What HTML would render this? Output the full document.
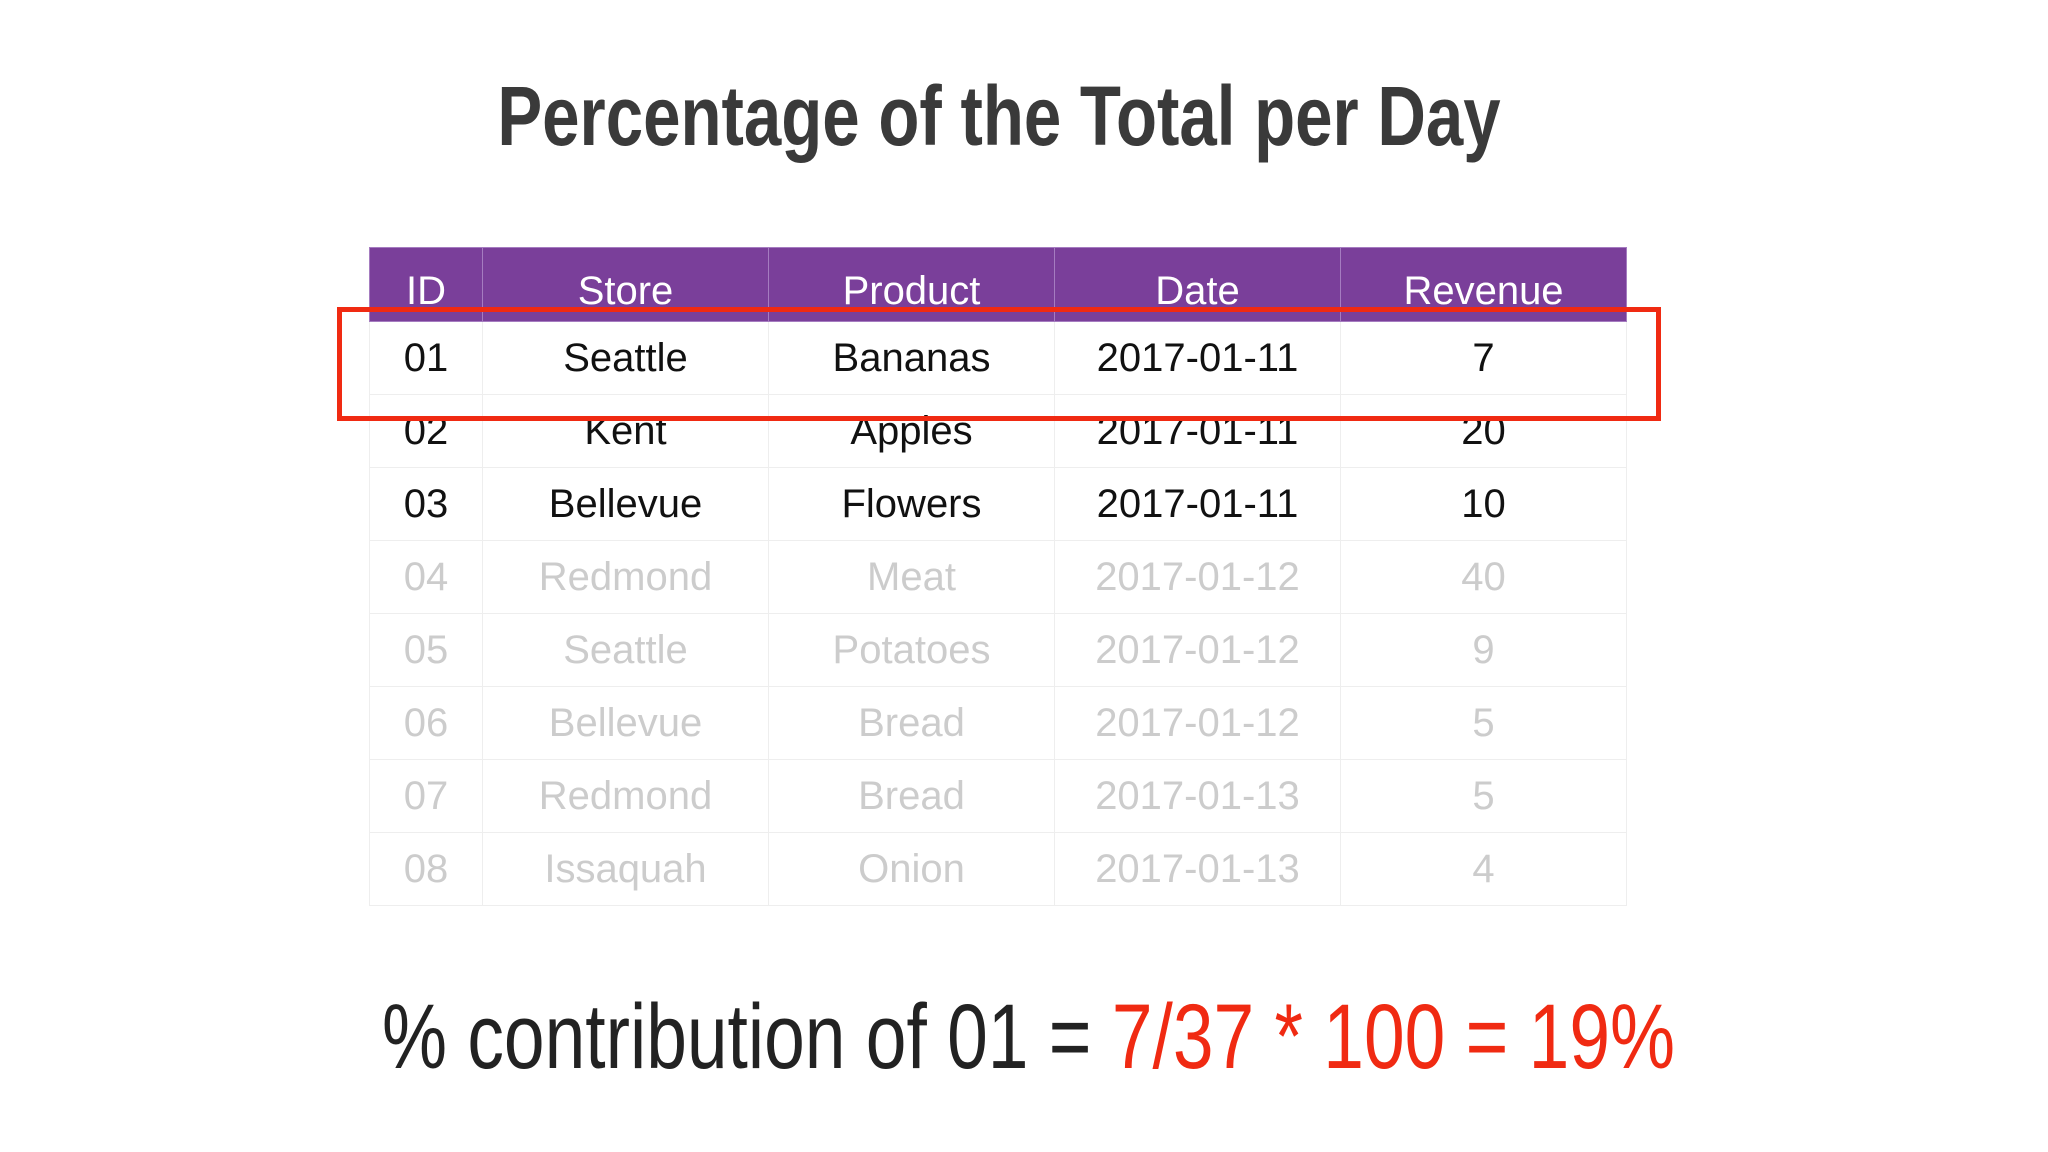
<!DOCTYPE html>
<html><head><meta charset="utf-8"><style>
body{margin:0;width:2048px;height:1152px;background:#fff;position:relative;overflow:hidden;font-family:"Liberation Sans",sans-serif}
#title{position:absolute;left:-21px;width:2048px;top:68px;text-align:center;font-size:84px;font-weight:bold;color:#3a3a3a;transform:scaleX(0.80);transform-origin:1004px 0}
table{position:absolute;left:369px;top:247px;border-collapse:collapse;width:1257px;table-layout:fixed}
td,th{height:72px;text-align:center;font-size:40px;border:1px solid #eee;padding:0;overflow:hidden}
th{background:#7a3f9a;color:#fff;font-weight:normal;border-color:#a57cc0;height:74px;padding-top:14px;box-sizing:border-box}
tr.f td{color:#ccc}
tr.a td{color:#111}
#box{position:absolute;left:337px;top:307px;width:1314px;height:104px;border:5px solid #f02a12}
#formula{position:absolute;left:382px;top:985px;font-size:92px;color:#222;white-space:nowrap;transform:scaleX(0.795);transform-origin:0 0}
#formula span{color:#f02a12}
</style></head><body>
<div id="title">Percentage of the Total per Day</div>
<table>
<colgroup><col style="width:113px"><col style="width:286px"><col style="width:286px"><col style="width:286px"><col style="width:286px"></colgroup>
<tr><th>ID</th><th>Store</th><th>Product</th><th>Date</th><th>Revenue</th></tr>
<tr class="a"><td>01</td><td>Seattle</td><td>Bananas</td><td>2017-01-11</td><td>7</td></tr>
<tr class="a"><td>02</td><td>Kent</td><td>Apples</td><td>2017-01-11</td><td>20</td></tr>
<tr class="a"><td>03</td><td>Bellevue</td><td>Flowers</td><td>2017-01-11</td><td>10</td></tr>
<tr class="f"><td>04</td><td>Redmond</td><td>Meat</td><td>2017-01-12</td><td>40</td></tr>
<tr class="f"><td>05</td><td>Seattle</td><td>Potatoes</td><td>2017-01-12</td><td>9</td></tr>
<tr class="f"><td>06</td><td>Bellevue</td><td>Bread</td><td>2017-01-12</td><td>5</td></tr>
<tr class="f"><td>07</td><td>Redmond</td><td>Bread</td><td>2017-01-13</td><td>5</td></tr>
<tr class="f"><td>08</td><td>Issaquah</td><td>Onion</td><td>2017-01-13</td><td>4</td></tr>
</table>
<div id="box"></div>
<div id="formula">% contribution of 01 = <span>7/37 * 100 = 19%</span></div>
</body></html>
